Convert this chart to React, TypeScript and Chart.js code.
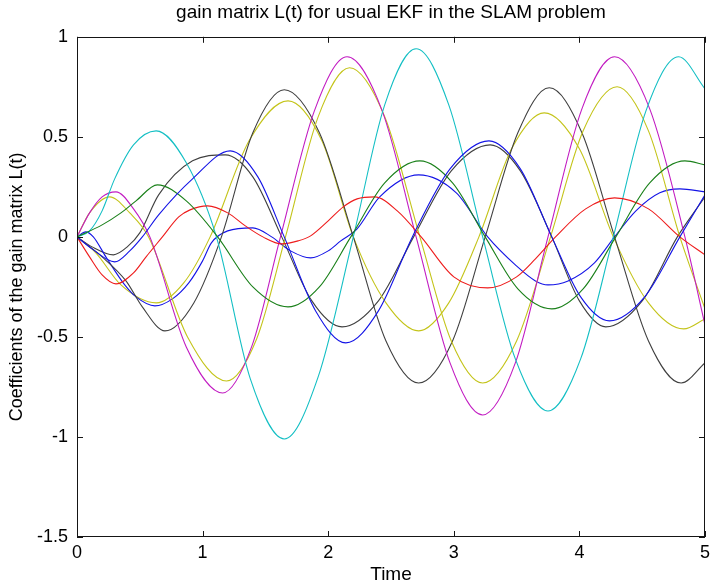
import React, { useEffect, useRef } from 'react';
import { Chart, registerables } from 'chart.js';

Chart.register(...registerables);

const TITLE = 'gain matrix L(t) for usual EKF in the SLAM problem';
const X_LABEL = 'Time';
const Y_LABEL = 'Coefficients of the gain matrix L(t)';
const X_TICKS = [0, 1, 2, 3, 4, 5];
const Y_TICKS = [-1.5, -1, -0.5, 0, 0.5, 1];

const FONT = "'Liberation Sans', Arial, Helvetica, sans-serif";

// cyan curve
const cyanT = [0, 0.1, 0.2, 0.3, 0.45, 0.63, 0.87, 1.11, 1.38, 1.65, 1.92, 2.2, 2.45, 2.7, 2.96, 3.23, 3.49, 3.75, 4.01, 4.27, 4.53, 4.79, 5.0];
const cyanV = [0, 0.03, 0.13, 0.29, 0.46, 0.53, 0.37, 0, -0.71, -1.01, -0.7, 0, 0.66, 0.94, 0.66, 0, -0.61, -0.87, -0.61, 0, 0.63, 0.9, 0.74];

// magenta curve
const magentaT = [0, 0.1, 0.2, 0.31, 0.45, 0.58, 0.87, 1.16, 1.39, 1.62, 1.89, 2.15, 2.43, 2.7, 2.97, 3.23, 3.49, 3.75, 4.02, 4.28, 4.56, 4.84, 5.0];
const magentaV = [0, 0.12, 0.2, 0.225, 0.14, 0, -0.55, -0.78, -0.55, 0, 0.63, 0.9, 0.63, 0, -0.63, -0.89, -0.63, 0, 0.64, 0.9, 0.64, 0, -0.44];

// yellow curve (large)
const yellowAT = [0, 0.1, 0.26, 0.42, 0.57, 0.88, 1.19, 1.43, 1.66, 1.92, 2.17, 2.45, 2.73, 2.98, 3.23, 3.5, 3.77, 4.03, 4.3, 4.55, 4.8, 5.0];
const yellowAV = [0, 0.12, 0.2, 0.12, 0, -0.5, -0.72, -0.51, 0, 0.6, 0.845, 0.6, 0, -0.52, -0.73, -0.52, 0, 0.53, 0.75, 0.53, 0, -0.36];

// yellow curve (small)
const yellowBT = [0, 0.15, 0.35, 0.63, 0.85, 1.06, 1.37, 1.68, 1.95, 2.2, 2.46, 2.72, 2.96, 3.2, 3.46, 3.72, 4.0, 4.27, 4.55, 4.83, 5.0];
const yellowBV = [0, -0.08, -0.24, -0.33, -0.23, 0, 0.48, 0.68, 0.48, 0, -0.33, -0.47, -0.33, 0, 0.44, 0.62, 0.44, 0, -0.33, -0.46, -0.41];

// dark grey curve (large)
const greyAT = [0, 0.2, 0.39, 0.52, 0.7, 0.93, 1.15, 1.4, 1.65, 1.93, 2.2, 2.46, 2.72, 2.99, 3.25, 3.51, 3.76, 4.02, 4.28, 4.55, 4.81, 5.0];
const greyAV = [0, -0.1, -0.22, -0.35, -0.47, -0.33, 0, 0.52, 0.735, 0.52, 0, -0.52, -0.73, -0.52, 0, 0.52, 0.745, 0.52, 0, -0.52, -0.73, -0.63];

// dark grey curve (small)
const greyBT = [0, 0.12, 0.29, 0.4, 0.5, 0.65, 0.92, 1.18, 1.4, 1.63, 1.87, 2.11, 2.4, 2.68, 2.98, 3.29, 3.53, 3.78, 4.0, 4.21, 4.5, 4.78, 5.0];
const greyBV = [0, -0.05, -0.09, -0.05, 0.02, 0.21, 0.38, 0.41, 0.3, 0, -0.32, -0.45, -0.32, 0, 0.33, 0.46, 0.33, 0, -0.32, -0.45, -0.32, 0, 0.2];

// blue curve (A)
const blueAT = [0, 0.12, 0.3, 0.42, 0.52, 0.65, 0.92, 1.22, 1.44, 1.65, 1.9, 2.14, 2.4, 2.67, 2.97, 3.28, 3.53, 3.78, 4.01, 4.24, 4.52, 4.8, 5.0];
const blueAV = [0, -0.06, -0.125, -0.07, 0, 0.11, 0.29, 0.43, 0.3, 0, -0.37, -0.53, -0.37, 0, 0.34, 0.48, 0.34, 0, -0.3, -0.42, -0.3, 0, 0.21];

// blue curve (B)
const blueBT = [0, 0.07, 0.13, 0.23, 0.38, 0.47, 0.62, 0.76, 0.89, 1.0, 1.07, 1.2, 1.4, 1.55, 1.7, 1.86, 2.0, 2.1, 2.23, 2.41, 2.72, 3.02, 3.27, 3.49, 3.65, 3.75, 3.91, 4.12, 4.28, 4.45, 4.64, 4.8, 5.0];
const blueBV = [0, 0.025, 0, -0.1, -0.24, -0.3, -0.345, -0.31, -0.23, -0.12, -0.03, 0.03, 0.045, 0, -0.07, -0.105, -0.07, -0.02, 0.04, 0.2, 0.31, 0.22, 0, -0.14, -0.22, -0.24, -0.22, -0.13, 0, 0.13, 0.22, 0.24, 0.225];

// green curve
const greenT = [0, 0.2, 0.35, 0.47, 0.64, 0.87, 1.12, 1.4, 1.68, 1.93, 2.18, 2.45, 2.73, 2.99, 3.25, 3.51, 3.78, 4.03, 4.29, 4.56, 4.84, 5.0];
const greenV = [0, 0.06, 0.12, 0.18, 0.26, 0.18, 0, -0.25, -0.35, -0.25, 0, 0.27, 0.38, 0.27, 0, -0.26, -0.36, -0.26, 0, 0.27, 0.38, 0.36];

// red curve
const redT = [0, 0.1, 0.2, 0.31, 0.45, 0.55, 0.68, 0.81, 0.9, 1.04, 1.2, 1.34, 1.48, 1.63, 1.76, 1.86, 2.0, 2.12, 2.23, 2.37, 2.55, 2.74, 3.0, 3.27, 3.5, 3.65, 3.81, 4.05, 4.28, 4.55, 4.8, 5.0];
const redV = [0, -0.1, -0.19, -0.235, -0.18, -0.1, 0, 0.1, 0.135, 0.155, 0.12, 0.055, 0, -0.035, -0.02, 0.005, 0.08, 0.15, 0.19, 0.2, 0.13, 0, -0.2, -0.255, -0.2, -0.11, 0, 0.14, 0.195, 0.14, 0, -0.09];

const SERIES = [
  { name: 'L1', t: blueAT, v: blueAV, color: '#1414e6' },
  { name: 'L2', t: greenT, v: greenV, color: '#1a801a' },
  { name: 'L3', t: redT, v: redV, color: '#ee1c1c' },
  { name: 'L4', t: cyanT, v: cyanV, color: '#14bfc4' },
  { name: 'L5', t: magentaT, v: magentaV, color: '#c21cc2' },
  { name: 'L6', t: yellowAT, v: yellowAV, color: '#c4c41a' },
  { name: 'L7', t: greyAT, v: greyAV, color: '#404040' },
  { name: 'L8', t: blueBT, v: blueBV, color: '#1414e6' },
  { name: 'L9', t: yellowBT, v: yellowBV, color: '#c4c41a' },
  { name: 'L10', t: greyBT, v: greyBV, color: '#404040' },
];

const framePlugin = {
  id: 'matlabFrame',
  afterDatasetsDraw(chart: any) {
    const { ctx, chartArea, scales } = chart;
    const { left, right, top, bottom } = chartArea;
    const tl = 6;
    ctx.save();
    ctx.strokeStyle = '#151515';
    ctx.lineWidth = 1;
    ctx.strokeRect(Math.round(left) + 0.5, Math.round(top) + 0.5, Math.round(right - left) - 1, Math.round(bottom - top) - 1);
    ctx.beginPath();
    for (const v of X_TICKS) {
      const x = Math.round(scales.x.getPixelForValue(v)) + 0.5;
      ctx.moveTo(x, bottom);
      ctx.lineTo(x, bottom - tl);
      ctx.moveTo(x, top);
      ctx.lineTo(x, top + tl);
    }
    for (const v of Y_TICKS) {
      const y = Math.round(scales.y.getPixelForValue(v)) + 0.5;
      ctx.moveTo(left, y);
      ctx.lineTo(left + tl, y);
      ctx.moveTo(right, y);
      ctx.lineTo(right - tl, y);
    }
    ctx.stroke();
    ctx.restore();
  },
};

export default function App() {
  const ref = useRef<HTMLCanvasElement>(null);
  useEffect(() => {
    const canvas = ref.current;
    if (!canvas) return;
    const chart = new Chart(canvas, {
      type: 'line',
      data: {
        datasets: SERIES.map((s) => ({
          label: s.name,
          data: s.t.map((t, i) => ({ x: t, y: s.v[i] })),
          borderColor: s.color,
          borderWidth: 1.1,
          pointRadius: 0,
          fill: false,
          cubicInterpolationMode: 'monotone' as const,
        })),
      },
      options: {
        responsive: false,
        animation: false,
        events: [],
        layout: { padding: { left: 0, right: 5, top: 0, bottom: 0 } },
        plugins: {
          legend: { display: false },
          tooltip: { enabled: false },
          title: {
            display: true,
            text: TITLE,
            fullSize: false,
            color: '#000',
            font: { family: FONT, size: 19, weight: 'normal' },
            padding: { top: 1, bottom: 13 },
          },
        },
        scales: {
          x: {
            type: 'linear',
            min: 0,
            max: 5,
            afterBuildTicks: (s: any) => {
              s.ticks = X_TICKS.map((v) => ({ value: v }));
            },
            grid: { display: false, drawTicks: false },
            border: { display: false },
            ticks: {
              color: '#000',
              font: { family: FONT, size: 18 },
              padding: 5,
              maxRotation: 0,
              callback: (v: any) => String(v),
            },
            title: {
              display: true,
              text: X_LABEL,
              color: '#000',
              font: { family: FONT, size: 19 },
              padding: { top: 0, bottom: 0 },
            },
            afterFit: (s: any) => {
              s.height = 49;
            },
          },
          y: {
            type: 'linear',
            min: -1.5,
            max: 1,
            afterBuildTicks: (s: any) => {
              s.ticks = Y_TICKS.map((v) => ({ value: v }));
            },
            grid: { display: false, drawTicks: false },
            border: { display: false },
            ticks: {
              color: '#000',
              font: { family: FONT, size: 18 },
              padding: 9,
              callback: (v: any) => String(v),
            },
            title: {
              display: true,
              text: Y_LABEL,
              color: '#000',
              font: { family: FONT, size: 18 },
              padding: { top: 6, bottom: 0 },
            },
            afterFit: (s: any) => {
              s.width = 77;
            },
          },
        },
      },
      plugins: [framePlugin],
    });
    return () => chart.destroy();
  }, []);
  return (
    <div style={{ position: 'fixed', left: 0, top: 0, width: 715, height: 586, background: '#fff' }}>
      <canvas ref={ref} width={715} height={586} style={{ display: 'block' }} />
    </div>
  );
}
